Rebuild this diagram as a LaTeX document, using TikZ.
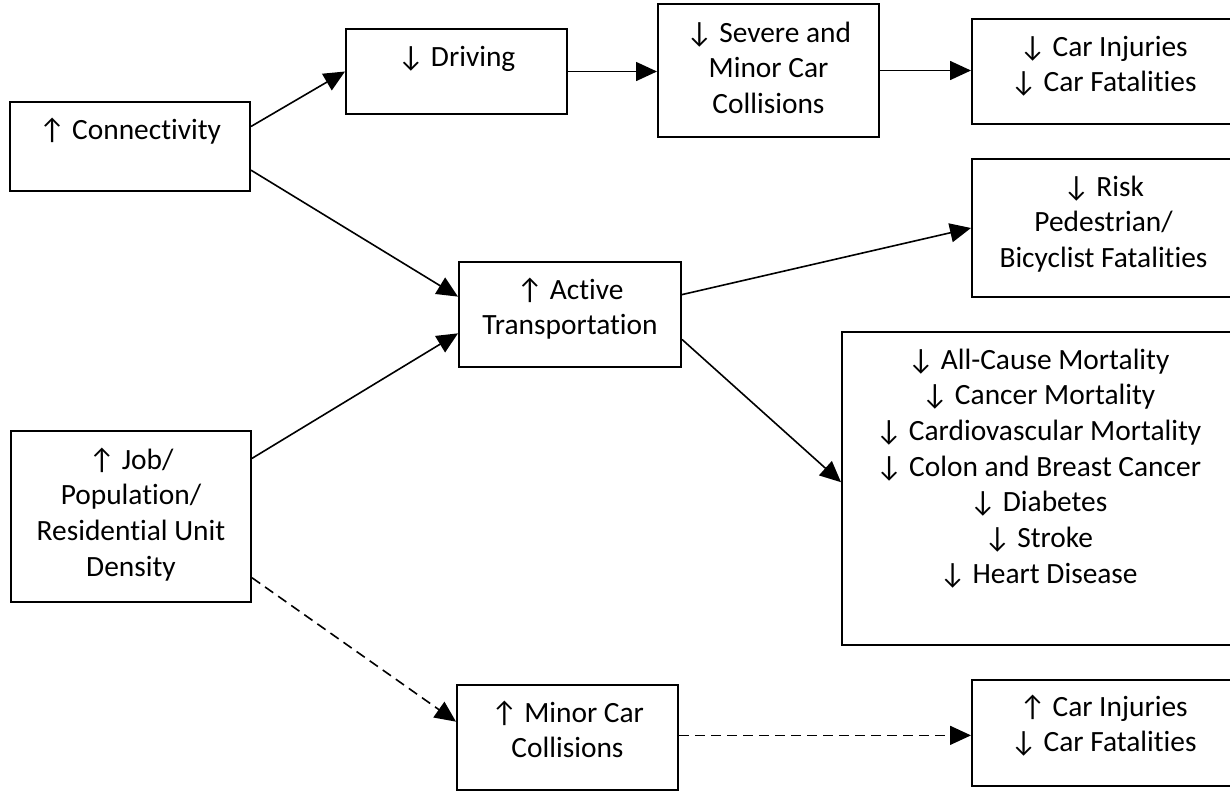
\documentclass[tikz,border=0pt]{standalone}
\usepackage{fontspec}
\setmainfont{Carlito}[Ligatures=NoCommon]
\usetikzlibrary{arrows.meta,calc,fit}
\newcommand{\mylines}[1]{\begin{tabular}[t]{@{}c@{}}#1\end{tabular}}
\begin{document}
\begin{tikzpicture}[x=0.5pt,y=-0.5pt,
  box/.style={draw, line width=1pt, inner sep=0pt, fit={#1}},
  txt/.style={anchor=base, inner sep=0pt, font=\fontsize{14.7}{17.85}\selectfont},
  conn/.style={line width=0.8pt, -{Triangle[length=10.5pt,width=9.5pt]}},
  dconn/.style={conn, dash pattern=on 5pt off 3pt}]
\useasboundingbox (0,0) rectangle (1230,793);
% boxes
\node[box={(10,102) (250,191)}] (conn) {};
\node[box={(346,29) (567,114)}] (drive) {};
\node[box={(658,4) (879,137)}] (sev) {};
\node[box={(972,19) (1235,124)}] (car1) {};
\node[box={(972,159) (1235,297)}] (risk) {};
\node[box={(459,262) (681,367)}] (act) {};
\node[box={(842,332) (1235,645)}] (mort) {};
\node[box={(11,431) (251,602)}] (job) {};
\node[box={(457,685) (678,790)}] (minor) {};
\node[box={(972,680) (1235,786)}] (car2) {};
% texts
\node[txt] (conn-t) at ($(conn.north)+(0,38)$) {\mylines{↑ Connectivity}};
\node[txt] (drive-t) at ($(drive.north)+(0,38)$) {\mylines{↓ Driving}};
\node[txt] (sev-t) at ($(sev.north)+(0,39)$) {\mylines{↓ Severe and\\Minor Car\\Collisions}};
\node[txt] (car1-t) at ($(car1.north)+(0,38)$) {\mylines{↓ Car Injuries\\↓ Car Fatalities}};
\node[txt] (risk-t) at ($(risk.north)+(0,38)$) {\mylines{↓ Risk\\Pedestrian/\\Bicyclist Fatalities}};
\node[txt] (act-t) at ($(act.north)+(0,38)$) {\mylines{↑ Active\\Transportation}};
\node[txt] (mort-t) at ($(mort.north)+(0,38)$) {\mylines{↓ All-Cause Mortality\\↓ Cancer Mortality\\↓ Cardiovascular Mortality\\↓ Colon and Breast Cancer\\↓ Diabetes\\↓ Stroke\\↓ Heart Disease}};
\node[txt] (job-t) at ($(job.north)+(0,39)$) {\mylines{↑ Job/\\Population/\\Residential Unit\\Density}};
\node[txt] (minor-t) at ($(minor.north)+(0,38)$) {\mylines{↑ Minor Car\\Collisions}};
\node[txt] (car2-t) at ($(car2.north)+(0,37)$) {\mylines{↑ Car Injuries\\↓ Car Fatalities}};
% connectors
\draw[conn] ($(conn.north east)!0.28!(conn.south east)$) -- (drive.west);
\draw[conn] (drive.east) -- (sev.west |- drive.east);
\draw[conn] (sev.east) -- (car1.west |- sev.east);
\draw[conn] ($(conn.north east)!0.76!(conn.south east)$) -- ($(act.north west)!0.333!(act.south west)$);
\draw[conn] ($(act.north east)!0.314!(act.south east)$) -- (risk.west);
\draw[conn] ($(act.north east)!0.733!(act.south east)$) -- ($(mort.north west)!0.48!(mort.south west)$);
\draw[conn] ($(job.north east)!0.164!(job.south east)$) -- ($(act.north west)!0.676!(act.south west)$);
\draw[dconn] ($(job.north east)!0.854!(job.south east)$) -- ($(minor.north west)!0.352!(minor.south west)$);
\coordinate (mstart) at ($(minor.north east)!0.48!(minor.south east)$);
\draw[dconn] (mstart) -- (car2.west |- mstart);
\end{tikzpicture}
\end{document}
